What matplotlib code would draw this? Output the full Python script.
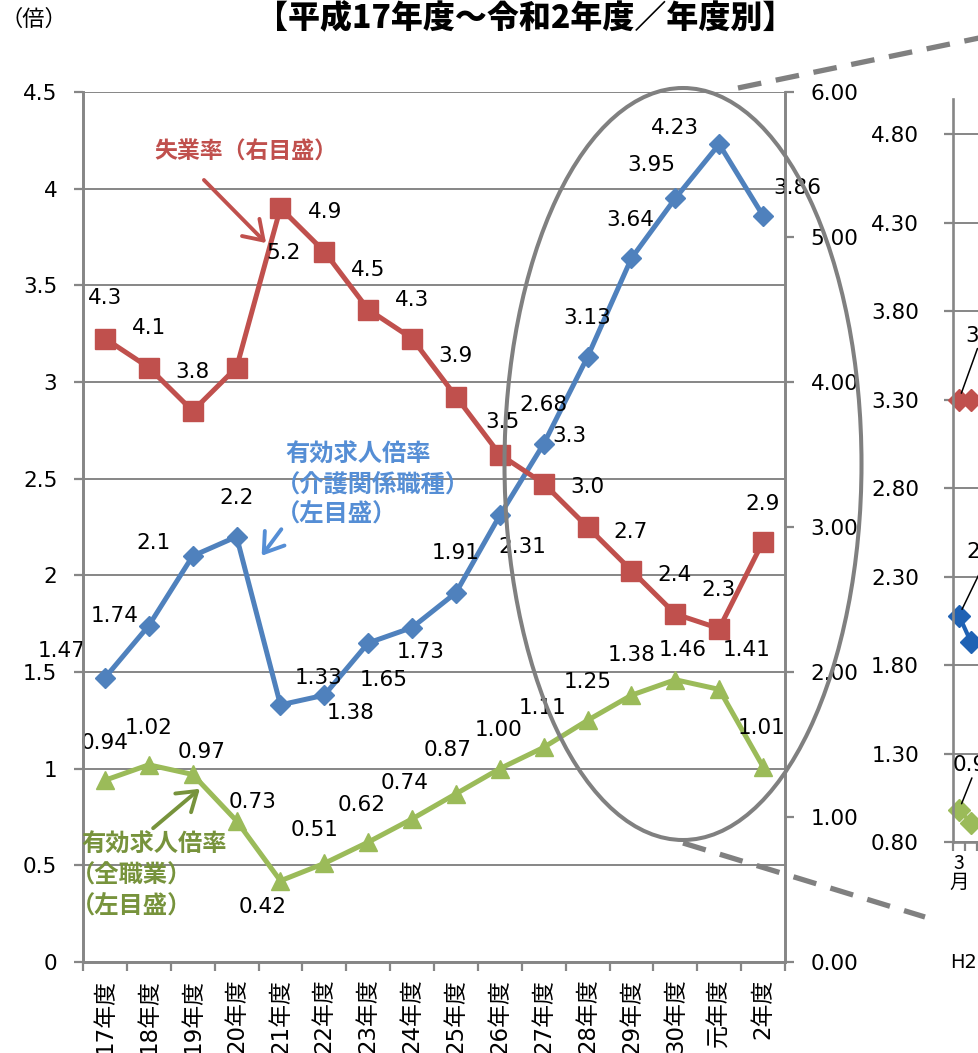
import matplotlib
matplotlib.use("Agg")
import matplotlib.pyplot as plt
from matplotlib.patches import Ellipse, FancyArrowPatch
from matplotlib.lines import Line2D
import numpy as np

JP = "Noto Sans CJK JP"
plt.rcParams["font.family"] = ["DejaVu Sans", JP]

W, H, DPI = 979, 1053, 100

# ---- data -------------------------------------------------------------
years = ["17年度", "18年度", "19年度", "20年度", "21年度", "22年度", "23年度",
         "24年度", "25年度", "26年度", "27年度", "28年度", "29年度", "30年度",
         "元年度", "2年度"]

care_ratio = [1.47, 1.74, 2.1, 2.2, 1.33, 1.38, 1.65, 1.73, 1.91, 2.31,
              2.68, 3.13, 3.64, 3.95, 4.23, 3.86]
care_text = ["1.47", "1.74", "2.1", "2.2", "1.33", "1.38", "1.65", "1.73",
             "1.91", "2.31", "2.68", "3.13", "3.64", "3.95", "4.23", "3.86"]

all_ratio = [0.94, 1.02, 0.97, 0.73, 0.42, 0.51, 0.62, 0.74, 0.87, 1.00,
             1.11, 1.25, 1.38, 1.46, 1.41, 1.01]

unemp = [4.3, 4.1, 3.8, 4.1, 5.2, 4.9, 4.5, 4.3, 3.9, 3.5, 3.3, 3.0, 2.7,
         2.4, 2.3, 2.9]
unemp_shown = [True, True, True, False, True, True, True, True, True, True,
               True, True, True, True, True, True]

# monthly panel (first months only)
month_unemp = [3.3, 3.3]
month_care = [2.08, 1.93]
month_all = [0.98, 0.91]

# ---- label offsets (pixels, +x right, +y down) -----------------------
care_off = [(-43, -27), (-34, -10), (-39, -13), (0, -39), (38, -27), (26, 18),
            (16, 37), (9, 24), (0, -40), (22, 32), (0, -39), (0, -39),
            (-1, -38), (-24, -33), (-44, -16), (34, -28)]
all_off = [(0, -37), (0, -37), (9, -22), (16, -19), (-18, 26), (-10, -33),
           (-7, -37), (-7, -36), (-8, -44), (-1, -39), (-1, -39), (0, -38),
           (0, -40), (7, -30), (27, -39), (-1, -39)]
unemp_off = [(0, -40), (0, -40), (0, -39), (0, -40), (3, 45), (1, -40),
             (0, -40), (0, -38), (0, -40), (3, -32), (26, -47), (0, -40),
             (-1, -39), (-1, -39), (-1, -38), (0, -38)]

BLUE, RED, GREEN = "#4F81BD", "#C0504D", "#9BBB59"
GRID = "#868686"
NUM = 15.5


def fx(x):
    return x / W


def fy(y):
    return 1 - y / H


fig = plt.figure(figsize=(W / DPI, H / DPI), dpi=DPI)
fig.patch.set_facecolor("white")

# ---- main chart -------------------------------------------------------
ax = fig.add_axes([fx(83), fy(962), (785 - 83) / W, (962 - 92) / H])
ax2 = ax.twinx()
n = len(years)
xpos = np.arange(n) + 0.5

ax.set_xlim(0, n)
ax.set_ylim(0, 4.5)
ax2.set_ylim(0, 6)

ax.set_yticks(np.arange(0, 4.51, 0.5))
ax.set_yticklabels(["0", "0.5", "1", "1.5", "2", "2.5", "3", "3.5", "4", "4.5"])
ax2.set_yticks(np.arange(0, 6.01, 1))
ax2.set_yticklabels([f"{v:.2f}" for v in np.arange(0, 6.01, 1)])

ax.set_xticks(np.arange(0, n + 1))
ax.set_xticklabels([])
ax.set_xticks(xpos, minor=True)
ax.set_xticklabels(years, minor=True, rotation=90, fontsize=16.5,
                   family=["DejaVu Sans", JP])
ax.tick_params(axis="x", which="minor", length=0, pad=12)
ax.tick_params(axis="x", which="major", length=6.5, width=1.6, color=GRID,
               direction="out")
ax.tick_params(axis="y", length=6.5, width=1.6, color=GRID, pad=12,
               labelsize=NUM)
ax2.tick_params(axis="y", length=6.5, width=1.6, color=GRID, pad=12,
                labelsize=NUM)

for a in (ax, ax2):
    for s in a.spines.values():
        s.set_color(GRID)
        s.set_linewidth(1.9)
    a.spines["top"].set_visible(False)

ax.yaxis.grid(True, color=GRID, lw=1.4)
ax.set_axisbelow(True)

ax.plot(xpos, care_ratio, color=BLUE, lw=3.6, marker="D", ms=10.5,
        zorder=3, clip_on=False)
ax.plot(xpos, all_ratio, color=GREEN, lw=3.6, marker="^", ms=13.5,
        zorder=3, clip_on=False)
ax2.plot(xpos, unemp, color=RED, lw=3.6, marker="s", ms=14.5, zorder=3,
         clip_on=False)

lab_kw = dict(textcoords="offset pixels", ha="center", va="center",
              fontsize=NUM, color="black", zorder=6)
for i in range(n):
    dx, dy = care_off[i]
    ax.annotate(care_text[i], (xpos[i], care_ratio[i]), xytext=(dx, -dy),
                **lab_kw)
    dx, dy = all_off[i]
    ax.annotate(f"{all_ratio[i]:.2f}", (xpos[i], all_ratio[i]),
                xytext=(dx, -dy), **lab_kw)
    if unemp_shown[i]:
        dx, dy = unemp_off[i]
        ax2.annotate(f"{unemp[i]:.1f}", (xpos[i], unemp[i]),
                     xytext=(dx, -dy), **lab_kw)

# ---- monthly panel (continues off the right edge) --------------------
ax3 = fig.add_axes([fx(953), fy(842), 240 / W, (842 - 99) / H])
ax3.set_xlim(0, 20)
ax3.set_ylim(0.8, 5.0)
ticks3 = np.arange(0.8, 4.81, 0.5)
ax3.set_yticks(ticks3)
ax3.set_yticklabels([f"{v:.2f}" for v in ticks3])
ax3.tick_params(axis="y", length=6.5, width=1.6, color=GRID, pad=18,
                labelsize=NUM)
ax3.set_xticks(np.arange(0, 21))
ax3.set_xticklabels([])
ax3.tick_params(axis="x", which="major", length=6.5, width=1.6, color=GRID)
ax3.set_xticks([0.5], minor=True)
ax3.set_xticklabels(["3\n月"], minor=True, fontsize=14, family=[JP],
                    linespacing=0.85)
ax3.tick_params(axis="x", which="minor", length=0, pad=8)
for s in ("top", "right"):
    ax3.spines[s].set_visible(False)
for s in ("left", "bottom"):
    ax3.spines[s].set_color(GRID)
    ax3.spines[s].set_linewidth(1.9)
ax3.yaxis.grid(True, color=GRID, lw=1.4)
ax3.set_axisbelow(True)
mx = np.arange(len(month_care)) + 0.5
ax3.plot(mx, month_unemp, color=RED, lw=3, marker="D", ms=11, clip_on=False)
ax3.plot(mx, month_care, color="#1F62B4", lw=3, marker="D", ms=11,
         clip_on=False)
ax3.plot(mx, month_all, color=GREEN, lw=3, marker="D", ms=11, clip_on=False)
lead = dict(arrowstyle="-", lw=1.1, color="black", shrinkA=0, shrinkB=5)
ax3.annotate(f"{month_unemp[0]:.1f}", (mx[0], month_unemp[0]),
             xytext=(6, 64), textcoords="offset pixels", ha="left",
             va="center", fontsize=NUM, arrowprops=lead)
ax3.annotate(f"{month_care[0]:.2f}", (mx[0], month_care[0]),
             xytext=(7, 64), textcoords="offset pixels", ha="left",
             va="center", fontsize=NUM, arrowprops=lead)
ax3.annotate(f"{month_all[0]:.2f}", (mx[0], month_all[0]),
             xytext=(-6, 45), textcoords="offset pixels", ha="left",
             va="center", fontsize=NUM, arrowprops=lead)
fig.text(fx(950), fy(962), "H2", fontsize=14, ha="left", va="center")

# ---- highlight ellipse and zoom guides -------------------------------
fig.add_artist(Ellipse((fx(683), fy(464)), 357 / W, 752 / H,
                       transform=fig.transFigure, fill=False,
                       ec="#808080", lw=2.9, zorder=10))
for (x0, y0), (x1, y1) in [((738, 88), (979, 38)), ((683, 843), (925, 917))]:
    fig.add_artist(Line2D([fx(x0), fx(x1)], [fy(y0), fy(y1)],
                          transform=fig.transFigure, color="#808080",
                          lw=3.8, dashes=(4.5, 2.8), zorder=10))

# ---- titles and series notes -----------------------------------------
fig.text(fx(525), fy(19), "【平成17年度～令和2年度／年度別】", family=[JP],
         fontsize=23, fontweight="heavy", ha="center", va="center")
fig.text(fx(0), fy(19), "（倍）", family=[JP], fontsize=16, ha="left",
         va="center")


def note(lines, x, y0, step, tip, tail, color, size, ha="left"):
    for k, line in enumerate(lines):
        # full-width opening brackets carry a blank left half; pull them in
        shift = -size * 0.55 if line.startswith("（") and ha == "left" else 0
        fig.text(fx(x + shift), fy(y0 + k * step), line, family=[JP],
                 fontsize=size, fontweight="bold", color=color, ha=ha,
                 va="center", zorder=12)
    fig.add_artist(FancyArrowPatch(
        (fx(tail[0]), fy(tail[1])), (fx(tip[0]), fy(tip[1])),
        transform=fig.transFigure, arrowstyle="->,head_length=6,head_width=4",
        mutation_scale=2.2, lw=2.8, color=color, zorder=12))


note(["失業率（右目盛）"], 246, 152, 0, (268, 245), (202, 178), RED, 16.5,
     ha="center")
note(["有効求人倍率", "（介護関係職種）", "（左目盛）"], 285, 455, 30,
     (260, 558), (283, 527), "#558ED5", 17.5)
note(["有効求人倍率", "（全職業）", "（左目盛）"], 81, 845, 31,
     (202, 787), (151, 830), "#77933C", 17.5)

fig.savefig("out.png", dpi=DPI)
